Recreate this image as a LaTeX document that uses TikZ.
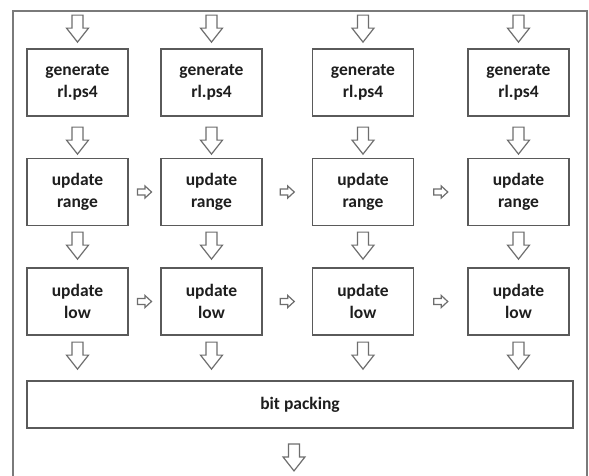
\documentclass[tikz,border=0pt]{standalone}
\usepackage{fontspec}
\setmainfont{Carlito}
\usetikzlibrary{calc}
\definecolor{boxgray}{HTML}{5A5A5A}
\definecolor{arrgray}{HTML}{6E6E6E}
\definecolor{framegray}{HTML}{7A7A7A}
\definecolor{txt}{HTML}{1E1E1E}
\tikzset{
  box/.style={draw=boxgray, line width=1.8pt, fill=white, minimum width=101pt,
    minimum height=67pt, inner sep=0pt, align=center, text=txt,
    font=\fontsize{17.5}{22}\selectfont\bfseries},
  blk/.style={draw=arrgray, line width=1.2pt, fill=white, line join=miter},
  darr/.pic={\path[blk] (0,0) -- (11,-14) -- (5.5,-14) -- (5.5,-27) -- (-5.5,-27) -- (-5.5,-14) -- (-11,-14) -- cycle;},
  rarr/.pic={\path[blk] (0,0) -- (-6.5,-6) -- (-6.5,-3) -- (-14,-3) -- (-14,3) -- (-6.5,3) -- (-6.5,6) -- cycle;},
  framel/.style={draw=framegray, line width=1.5pt}
}
\begin{document}
\begin{tikzpicture}[x=1pt,y=-1pt]
\useasboundingbox (0,0) rectangle (589,475);
\fill[white] (0,0) rectangle (589,475);
\draw[framel] (13,480) -- (13,11) -- (587,11) -- (587,480);

\foreach \i/\x in {1/77.5, 2/211.5, 3/363, 4/518.5}{
  \node[box] (g\i) at (\x,82.5) {generate\\rl.ps4};
  \node[box] (r\i) at (\x,192) {update\\range};
  \node[box] (l\i) at (\x,301.5) {update\\low};
}
\node[box, minimum width=546pt, minimum height=47pt] (bp) at (300,404.5) {bit packing};

\foreach \i in {1,2,3,4}{
  \pic at ($(g\i.north)+(0,-6)$) {darr};
  \pic at ($(r\i.north)+(0,-3.5)$) {darr};
  \pic at ($(l\i.north)+(0,-8)$) {darr};
  \pic at ($(l\i.south|-bp.north)+(0,-11)$) {darr};
}
\coordinate (out) at ($(bp.south)+(-6,42)$);
\pic at (out) {darr};

\foreach \a/\b in {1/2, 2/3, 3/4}{
  \pic at ($(r\a.east)!0.5!(r\b.west)+(7,0)$) {rarr};
  \pic at ($(l\a.east)!0.5!(l\b.west)+(7,0)$) {rarr};
}
\end{tikzpicture}
\end{document}
